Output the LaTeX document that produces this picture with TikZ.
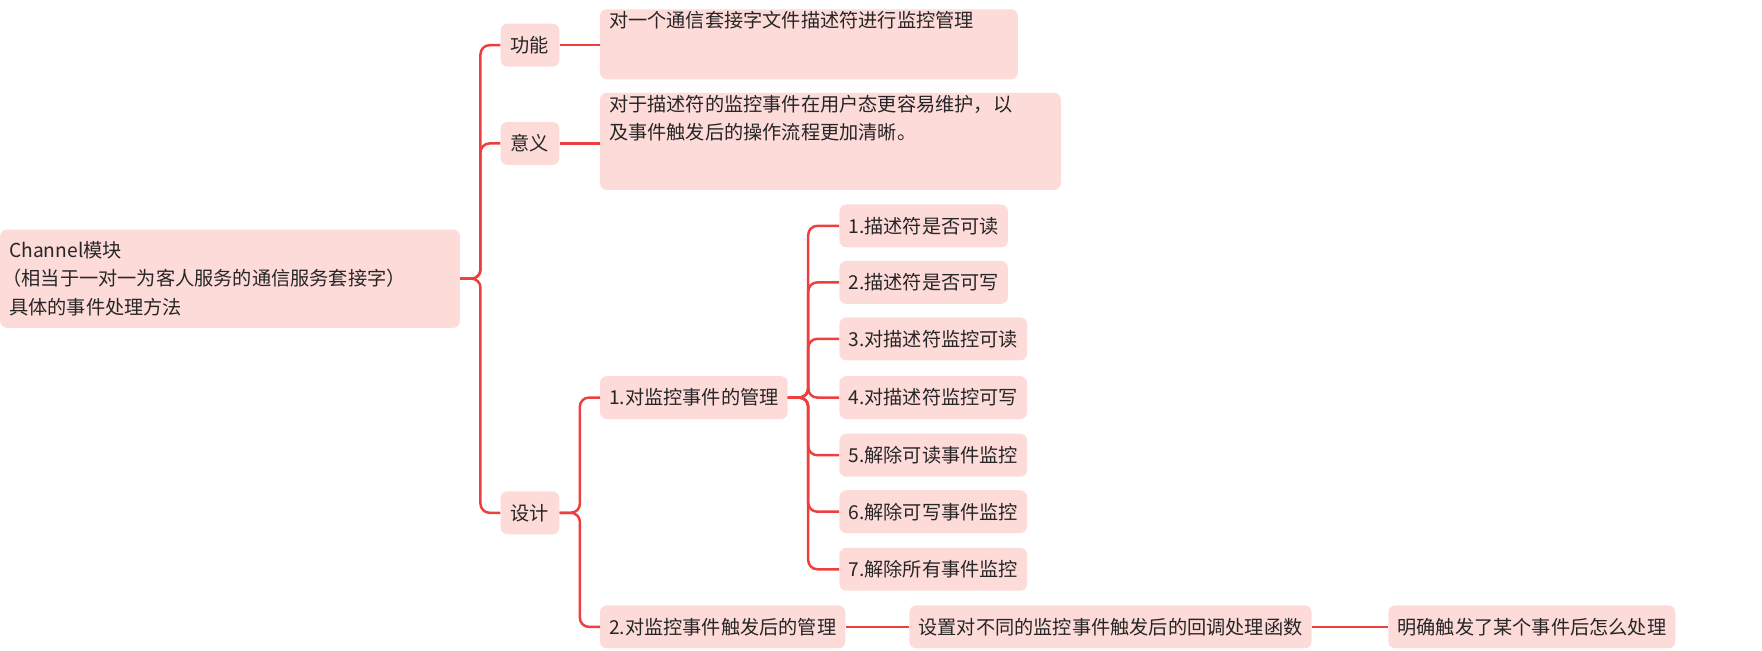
\documentclass[tikz,border=0pt]{standalone}
\usepackage{fontspec}
\setmainfont{Noto Sans CJK SC}
\usetikzlibrary{positioning}
\definecolor{boxfill}{HTML}{FDDBD9}
\definecolor{linered}{HTML}{EE3F3F}
\begin{document}
\begin{tikzpicture}[
    x=1pt,
    y=-1pt,
    font=\fontsize{17}{25}\selectfont,
    topic/.style={
        rectangle,
        rounded corners=6pt,
        fill=boxfill,
        text=black!85,
        anchor=west,
        inner xsep=8pt,
        minimum height=38pt
    },
    note/.style={
        rectangle,
        rounded corners=6pt,
        fill=boxfill,
        text=black!85,
        anchor=north west,
        inner sep=8pt,
        align=left
    },
    branch/.style={
        draw=linered,
        line width=2.2pt,
        rounded corners=8pt
    }
]
\useasboundingbox (0,0) rectangle (1560,576);

% Root
\node[note, inner sep=0pt] (root) at (0,203)
    {\parbox[c][87pt]{407pt}{\hspace*{8pt}Channel模块\\\hspace*{2pt}（相当于一对一为客人服务的通信服务套接字）\\\hspace*{8pt}具体的事件处理方法}};

% First level
\node[topic, minimum width=52pt, inner xsep=4pt] (func) at (443,40) {功能};
\node[topic, minimum width=52pt, inner xsep=4pt] (mean) at (443,127) {意义};
\node[topic, minimum width=52pt, inner xsep=4pt] (design) at (443,454) {设计};

% Notes
\node[note, inner sep=0pt] (funcnote) at (531,8)
    {\parbox[t][62pt]{370pt}{\vspace*{2pt}\hspace*{8pt}对一个通信套接字文件描述符进行监控管理}};
\node[note, inner sep=0pt] (meannote) at (531,82)
    {\parbox[t][86pt]{408pt}{\vspace*{2pt}\hspace*{8pt}对于描述符的监控事件在用户态更容易维护，以\\\hspace*{8pt}及事件触发后的操作流程更加清晰。}};

% Design parts
\node[topic] (manage) at (531,352) {1.对监控事件的管理};
\node[topic] (trigger) at (531,555) {2.对监控事件触发后的管理};
\node[topic] (callback) at (805,555) {设置对不同的监控事件触发后的回调处理函数};
\node[topic] (handle) at (1229,555) {明确触发了某个事件后怎么处理};

% Monitor items
\foreach \name/\y/\txt in {
    readq/200/1.描述符是否可读,
    writeq/250/2.描述符是否可写,
    readon/300/3.对描述符监控可读,
    writeon/352/4.对描述符监控可写,
    readoff/403/5.解除可读事件监控,
    writeoff/453/6.解除可写事件监控,
    alloff/504/7.解除所有事件监控}
    \node[topic] (\name) at (743,\y) {\txt};

% Connectors
\foreach \child in {func, mean, design}
    \draw[branch] (root.east) -- ++(18,0) |- (\child.west);
\draw[branch] (func.east) -- (funcnote.west |- func.east);
\draw[branch] (mean.east) -- (meannote.west |- mean.east);
\foreach \child in {manage, trigger}
    \draw[branch] (design.east) -- ++(18,0) |- (\child.west);
\foreach \child in {readq, writeq, readon, writeon, readoff, writeoff, alloff}
    \draw[branch] (manage.east) -- ++(18,0) |- (\child.west);
\draw[branch] (trigger) -- (callback);
\draw[branch] (callback) -- (handle);

\end{tikzpicture}
\end{document}
